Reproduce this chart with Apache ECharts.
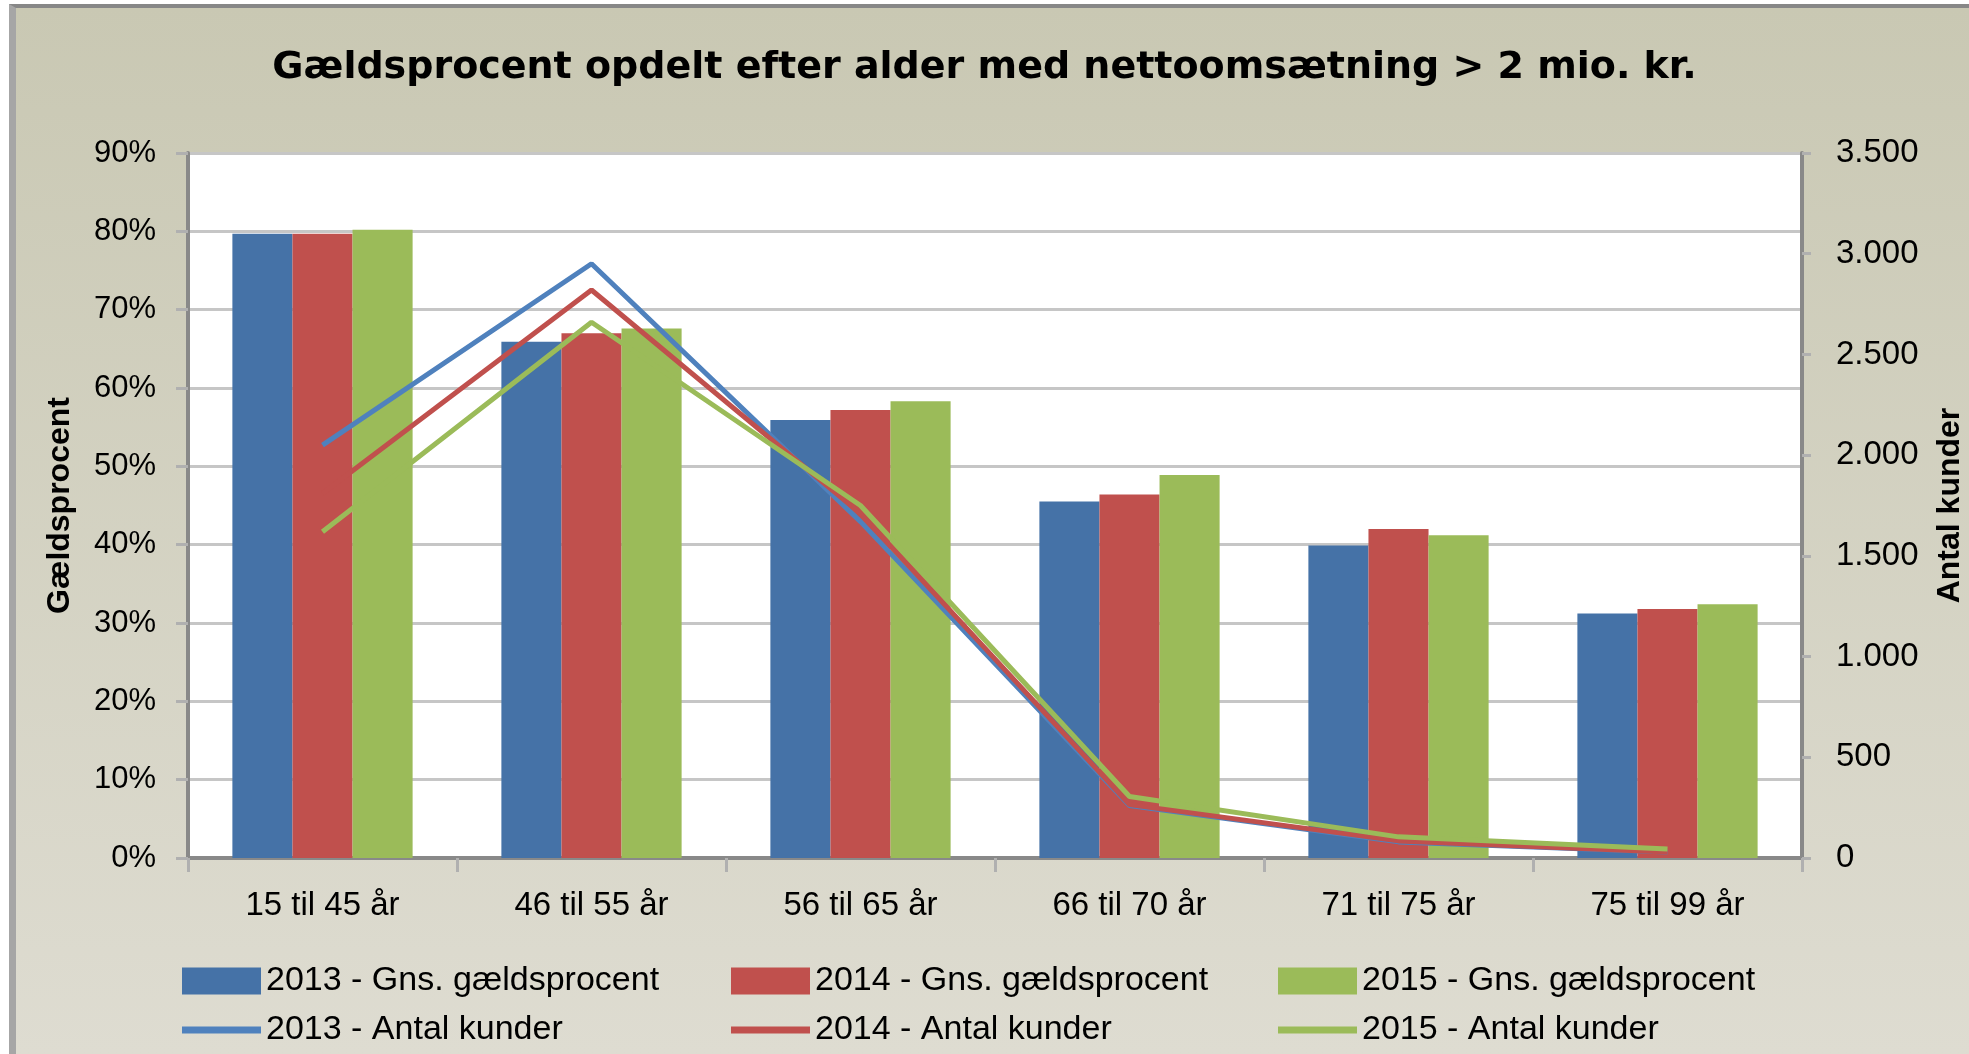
<!DOCTYPE html>
<html>
<head>
<meta charset="utf-8">
<script src="https://cdn.jsdelivr.net/npm/echarts@6/dist/echarts.min.js"></script>
<style>
html,body{margin:0;padding:0;background:#fff;}
#bg{position:absolute;left:9px;top:4px;right:0;bottom:0;border-top:4px solid #878787;border-left:7px solid #a6a6a6;background:linear-gradient(#c9c8b3,#dedcd1);}
#chart{position:absolute;left:0;top:0;width:1969px;height:1054px;}
</style>
</head>
<body>
<div id="bg"></div>
<div id="chart"></div>
<script>
// aldersgrupper
var categories = ['15 til 45 år', '46 til 55 år', '56 til 65 år', '66 til 70 år', '71 til 75 år', '75 til 99 år'];
// gns. gældsprocent (%)
var gaeld2013 = [79.7, 65.9, 55.9, 45.5, 39.9, 31.2];
var gaeld2014 = [79.7, 67.0, 57.2, 46.4, 42.0, 31.8];
var gaeld2015 = [80.2, 67.6, 58.3, 48.9, 41.2, 32.4];
// antal kunder
var kunder2013 = [2050, 2950, 1670, 260, 80, 30];
var kunder2014 = [1810, 2820, 1710, 265, 85, 30];
var kunder2015 = [1620, 2660, 1750, 305, 105, 45];

var barNames = ['2013 - Gns. gældsprocent', '2014 - Gns. gældsprocent', '2015 - Gns. gældsprocent'];
var lineNames = ['2013 - Antal kunder', '2014 - Antal kunder', '2015 - Antal kunder'];

var chart = echarts.init(document.getElementById('chart'));

function legendAt(name, left, top, h){
    return {
        data: [name],
        left: left,
        top: top,
        padding: 0,
        icon: 'rect',
        itemWidth: 79,
        itemHeight: h,
        textStyle: {fontSize: 34, color: '#000', fontFamily: 'Liberation Sans'}
    };
}

var option = {
    animation: false,
    backgroundColor: 'transparent',
    textStyle: {fontFamily: 'Liberation Sans', color: '#000'},
    title: {
        text: 'Gældsprocent opdelt efter alder med nettoomsætning > 2 mio. kr.',
        left: 'center',
        top: 44,
        textStyle: {fontSize: 38, fontWeight: 'bold', color: '#000', fontFamily: 'DejaVu Sans'}
    },
    legend: [
        legendAt(barNames[0], 182, 964, 27),
        legendAt(barNames[1], 731, 964, 27),
        legendAt(barNames[2], 1278, 964, 27),
        legendAt(lineNames[0], 182, 1013, 7),
        legendAt(lineNames[1], 731, 1013, 7),
        legendAt(lineNames[2], 1278, 1013, 7)
    ],
    grid: {
        left: 188, right: 167, top: 153, bottom: 196,
        outerBoundsMode: 'none',
        show: true, backgroundColor: '#fff', borderWidth: 0
    },
    xAxis: {
        type: 'category',
        data: categories,
        axisLine: {lineStyle: {color: '#898989', width: 4}},
        axisTick: {show: true, interval: 0, length: 14, lineStyle: {color: '#b0b0b0', width: 3}},
        axisLabel: {fontSize: 33, color: '#000', margin: 31}
    },
    yAxis: [
        {
            type: 'value',
            min: 0, max: 90, interval: 10,
            name: 'Gældsprocent',
            nameLocation: 'middle',
            nameRotate: 90,
            nameGap: 112,
            nameTextStyle: {fontSize: 32, fontWeight: 'bold', color: '#000'},
            axisLine: {show: true, lineStyle: {color: '#898989', width: 4}},
            axisTick: {show: true, length: 12, lineStyle: {color: '#b0b0b0', width: 3}},
            axisLabel: {fontSize: 31, color: '#000', margin: 32, formatter: '{value}%'},
            splitLine: {lineStyle: {color: '#c6c6c6', width: 3}}
        },
        {
            type: 'value',
            min: 0, max: 3500, interval: 500,
            name: 'Antal kunder',
            nameLocation: 'middle',
            nameRotate: 90,
            nameGap: 132,
            nameTextStyle: {fontSize: 32, fontWeight: 'bold', color: '#000'},
            axisLine: {show: true, lineStyle: {color: '#898989', width: 4}},
            axisTick: {show: true, length: 9, lineStyle: {color: '#b0b0b0', width: 3}},
            axisLabel: {
                fontSize: 33, color: '#000', margin: 34,
                formatter: function(v){ return String(v).replace(/\B(?=(\d{3})+(?!\d))/g, '.'); }
            },
            splitLine: {show: false}
        }
    ],
    series: [
        {name: barNames[0], type: 'bar', data: gaeld2013, barGap: '0%', barCategoryGap: '33%', itemStyle: {color: '#4572a7'}},
        {name: barNames[1], type: 'bar', data: gaeld2014, barGap: '0%', barCategoryGap: '33%', itemStyle: {color: '#c0504d'}},
        {name: barNames[2], type: 'bar', data: gaeld2015, barGap: '0%', barCategoryGap: '33%', itemStyle: {color: '#9bbb59'}},
        {name: lineNames[0], type: 'line', yAxisIndex: 1, data: kunder2013, symbol: 'none', lineStyle: {color: '#4f81bd', width: 5}, itemStyle: {color: '#4f81bd'}},
        {name: lineNames[1], type: 'line', yAxisIndex: 1, data: kunder2014, symbol: 'none', lineStyle: {color: '#c0504d', width: 5}, itemStyle: {color: '#c0504d'}},
        {name: lineNames[2], type: 'line', yAxisIndex: 1, data: kunder2015, symbol: 'none', lineStyle: {color: '#9bbb59', width: 5}, itemStyle: {color: '#9bbb59'}}
    ]
};
chart.setOption(option);
</script>
</body>
</html>
